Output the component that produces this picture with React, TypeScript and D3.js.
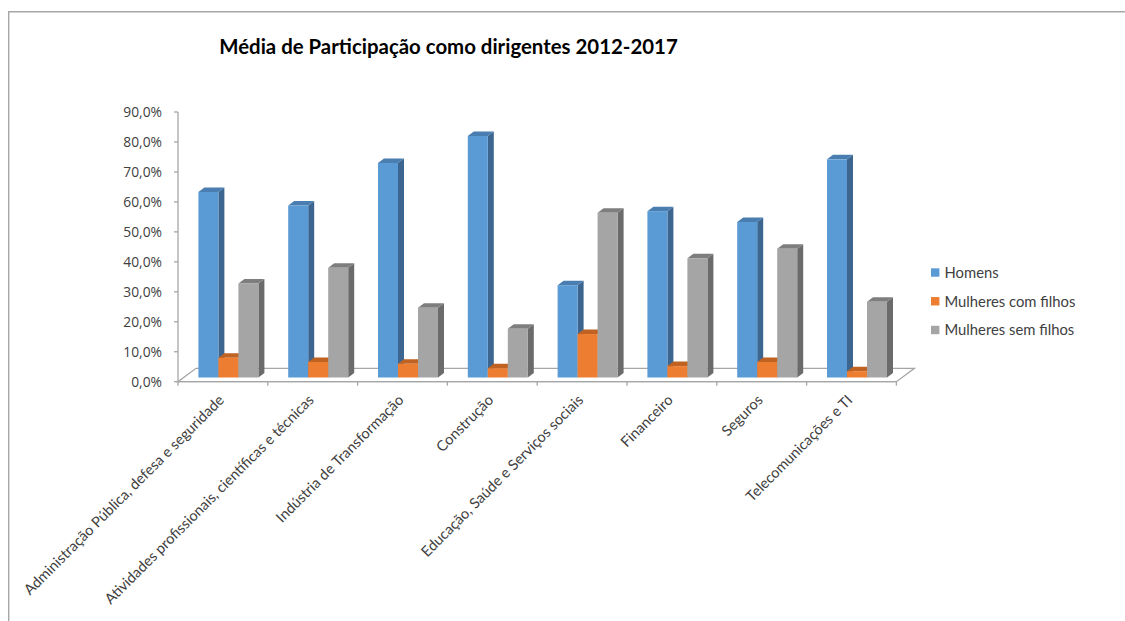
import React from "react";
import * as d3 from "d3";

const title = "Média de Participação como dirigentes 2012-2017";
const categories = [
  "Administração Pública, defesa e seguridade",
  "Atividades profissionais, científicas e técnicas",
  "Indústria de Transformação",
  "Construção",
  "Educação, Saúde e Serviços sociais",
  "Financeiro",
  "Seguros",
  "Telecomunicações e TI",
];
const seriesNames = ["Homens", "Mulheres com filhos", "Mulheres sem filhos"];
const homens = [61.9, 57.4, 71.6, 80.6, 30.8, 55.5, 51.9, 72.8];
const mulheresComFilhos = [6.6, 5.2, 4.6, 3.1, 14.5, 3.8, 5.2, 2.1];
const mulheresSemFilhos = [31.4, 36.6, 23.3, 16.3, 55.0, 39.8, 43.0, 25.3];
const yTicks = [0, 10, 20, 30, 40, 50, 60, 70, 80, 90];

const seriesValues = [homens, mulheresComFilhos, mulheresSemFilhos];
const colors = [
  { front: "#5B9BD5", side: "#3C6690", top: "#4A7DB0" },
  { front: "#ED7D31", side: "#A85A22", top: "#BF6222" },
  { front: "#A5A5A5", side: "#6B6B6B", top: "#7E7E7E" },
];

const FONT = "Lato, 'Open Sans', sans-serif";
const NUMFONT = "'Open Sans', sans-serif";

export default function App() {
  const W = 1125;
  const H = 621;
  const x = d3.scaleBand<string>().domain(categories).range([178, 896.4]).padding(0);
  const y = d3.scaleLinear().domain([0, 90]).range([381.7, 112]);
  const barW = 20;
  const xs = d3
    .scaleBand<string>()
    .domain(seriesNames)
    .range([0, barW * seriesNames.length])
    .padding(0);
  const groupOff = (x.bandwidth() - barW * seriesNames.length) / 2;
  // oblique depth geometry
  const floorDx = 18;
  const floorDy = -13.4;
  const ox0 = 5.5;
  const oy0 = -4.2;
  const ddx = 6;
  const ddy = -4.5;
  const x0 = x.range()[0];
  const x1 = x.range()[1];
  const yb = y(0);

  const fmt = (v: number) => v.toFixed(1).replace(".", ",") + "%";

  const bars: React.ReactNode[] = [];
  categories.forEach((c, ci) => {
    seriesNames.forEach((s, si) => {
      const v = seriesValues[si][ci];
      const bx0 = (x(c) as number) + groupOff + (xs(s) as number) + ox0;
      const bx1 = bx0 + xs.bandwidth();
      const yt = y(v) + oy0;
      const ybase = yb + oy0;
      const col = colors[si];
      bars.push(
        <g key={c + s}>
          <polygon
            points={`${bx1},${yt} ${bx1 + ddx},${yt + ddy} ${bx1 + ddx},${ybase + ddy} ${bx1},${ybase}`}
            fill={col.side}
          />
          <polygon
            points={`${bx0},${yt} ${bx0 + ddx},${yt + ddy} ${bx1 + ddx},${yt + ddy} ${bx1},${yt}`}
            fill={col.top}
          />
          <rect x={bx0} y={yt} width={bx1 - bx0} height={ybase - yt} fill={col.front} />
        </g>
      );
    });
  });

  const tickXs = categories.map((c) => x(c) as number).concat([x1]);

  return (
    <div style={{ position: "fixed", left: 0, top: 0, width: W, height: H, background: "#fff" }}>
      <svg width={W} height={H} style={{ display: "block" }}>
        <rect x={0} y={0} width={W} height={H} fill="#fff" />
        {/* outer border */}
        <path d={`M8.7,${H + 5} L8.7,11.7 L${W + 5},11.7`} fill="none" stroke="#A6A6A6" strokeWidth={1.4} />
        {/* title */}
        <text x={448.5} y={54} textAnchor="middle" fontFamily={FONT} fontWeight="bold" fontSize={20.4} fill="#000">
          {title}
        </text>
        {/* floor */}
        <polygon
          points={`${x0},${yb} ${x1},${yb} ${x1 + floorDx},${yb + floorDy} ${x0 + floorDx},${yb + floorDy}`}
          fill="#fff"
          stroke="#A6A6A6"
          strokeWidth={1.3}
        />
        {/* y axis */}
        <line x1={x0} x2={x0} y1={y(90)} y2={yb} stroke="#A6A6A6" strokeWidth={1.3} />
        {yTicks.map((t) => (
          <g key={t}>
            <line x1={x0 - 4} x2={x0} y1={y(t)} y2={y(t)} stroke="#A6A6A6" strokeWidth={1.3} />
            <text
              x={162}
              y={y(t)}
              dy="0.36em"
              textAnchor="end"
              fontFamily={NUMFONT}
              fontSize={13.8}
              fill="#404040"
            >
              {fmt(t)}
            </text>
          </g>
        ))}
        {/* x axis */}
        <line x1={x0} x2={x1} y1={yb} y2={yb} stroke="#A6A6A6" strokeWidth={1.3} />
        {tickXs.map((tx, i) => (
          <line key={i} x1={tx} x2={tx} y1={yb} y2={yb + 4} stroke="#A6A6A6" strokeWidth={1.3} />
        ))}
        {bars}
        {/* category labels */}
        {categories.map((c) => {
          const cx = (x(c) as number) + x.bandwidth() / 2 + 2;
          const cy = 401;
          return (
            <text
              key={c}
              transform={`translate(${cx},${cy}) rotate(-45)`}
              textAnchor="end"
              fontFamily={FONT}
              fontSize={14.6}
              fill="#404040"
            >
              {c}
            </text>
          );
        })}
        {/* legend */}
        {seriesNames.map((s, i) => {
          const cy = 272.5 + i * 28.75;
          return (
            <g key={s}>
              <rect x={931} y={cy - 4.2} width={8.4} height={8.4} fill={colors[i].front} />
              <text x={944.5} y={cy} dy="0.36em" fontFamily={FONT} fontSize={14.8} fill="#404040">
                {s}
              </text>
            </g>
          );
        })}
      </svg>
    </div>
  );
}
